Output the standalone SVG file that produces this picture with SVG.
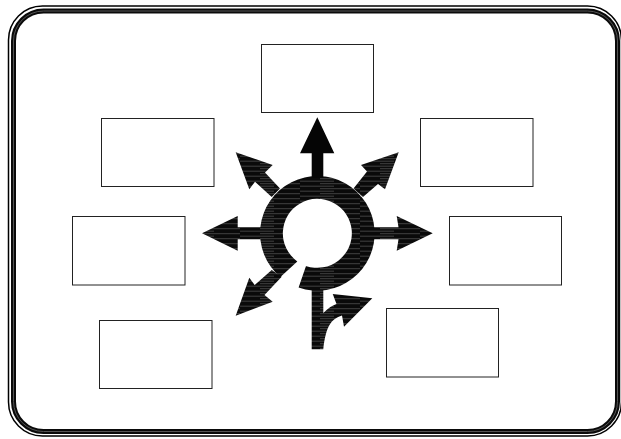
<svg xmlns="http://www.w3.org/2000/svg" width="621" height="439" viewBox="0 0 621 439">
<style>
.box{fill:#fff;stroke:#222;stroke-width:1}
</style>
<defs>
<pattern id="streak" patternUnits="userSpaceOnUse" width="60" height="5">
<rect width="60" height="5" fill="#0a0a0a"/>
<path d="M0 1.2H34M20 3.7H60" stroke="#4c4c4c" stroke-width="0.8" fill="none"/>
</pattern>
</defs>
<rect width="621" height="439" fill="#fff"/>
<g id="frame" fill="none">
<rect x="8.5" y="6" width="613" height="430" rx="34" stroke="#000" stroke-width="1.5"/>
<rect x="13.5" y="11" width="604" height="420.5" rx="30" stroke="#0a0a0a" stroke-width="5"/>
<rect x="13.5" y="11" width="604" height="420.5" rx="30" stroke="#555" stroke-width="1"/>
</g>
<g id="connectors">
<g id="symbol" fill="url(#streak)">
<path d="M297.3 261.4 A34.5 34.5 0 1 1 306 265.9 L298.6 287.45 A57.3 57.3 0 1 0 280.4 277.1 Z"/>
<path fill="#050505" d="M317.3 117.3 L334.3 153.3 L323.3 153.3 L323.3 178 L311.7 178 L311.7 153.3 L300 153.3 Z"/>
<path d="M432.7 233.3 L396.7 216 L398.5 227.3 L368 227.3 L368 239.3 L398.5 239.3 L396.7 250.7 Z"/>
<path d="M202 233.3 L237.7 216 L237.7 227.3 L266 227.3 L266 239.3 L237.7 239.3 L237.7 250.7 Z"/>
<path d="M398.7 152.3 L361 165 L367 171.5 L353.5 188.5 L363 197 L378 184 L385 189.3 Z"/>
<path d="M235.7 152.3 L272.7 165 L265 172.5 L280 188.5 L271.7 197 L255 181.7 L249.3 189.3 Z"/>
<path d="M235.7 315.7 L272.7 301.7 L264.5 295 L281.7 276.8 L271.7 270 L254.7 285 L249.3 277.7 Z"/>
<path d="M311.7 288 L323.3 288 L323.3 313 C328 308 333 305 336.5 304 L332.7 294 L372.3 298.3 L344 326.7 L342 315.5 C331 319 326 326 323.3 349.3 L311.7 349.3 Z"/>
</g>
</g>
<g id="box-top"><rect class="box" x="261.5" y="44.5" width="112" height="68"/></g>
<g id="box-upper-left"><rect class="box" x="101.5" y="118.5" width="112.5" height="68"/></g>
<g id="box-upper-right"><rect class="box" x="420.5" y="118.5" width="112.5" height="68"/></g>
<g id="box-left"><rect class="box" x="72.5" y="216.5" width="112.5" height="68.5"/></g>
<g id="box-right"><rect class="box" x="449.5" y="216.5" width="112" height="68.5"/></g>
<g id="box-lower-left"><rect class="box" x="99.5" y="320.5" width="112.5" height="68"/></g>
<g id="box-lower-right"><rect class="box" x="386.5" y="308.5" width="112" height="68.5"/></g>
</svg>
